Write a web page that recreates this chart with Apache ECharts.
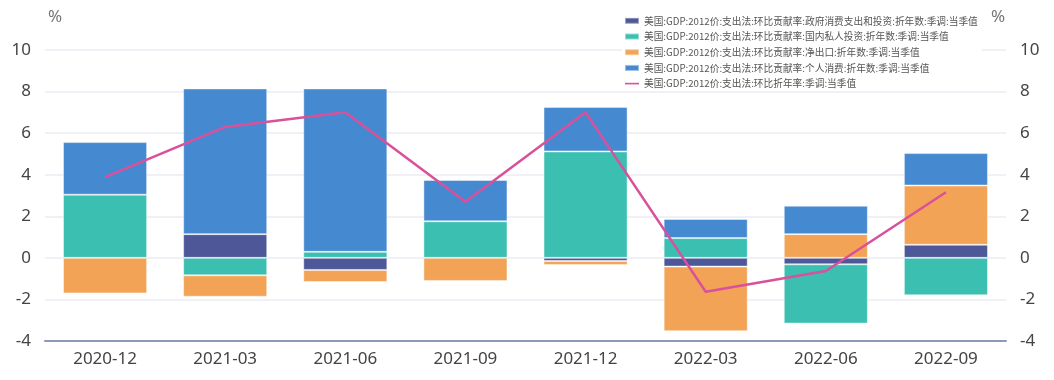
<!DOCTYPE html>
<html>
<head>
<meta charset="utf-8">
<script src="https://cdn.jsdelivr.net/npm/echarts@6/dist/echarts.min.js"></script>
<style>
html,body{margin:0;padding:0;background:#fff;}
#chart{width:1054px;height:380px;}
</style>
</head>
<body>
<div id="chart"></div>
<script>
const categories = ['2020-12','2021-03','2021-06','2021-09','2021-12','2022-03','2022-06','2022-09'];
const seriesNames = [
  '美国:GDP:2012价:支出法:环比贡献率:政府消费支出和投资:折年数:季调:当季值',
  '美国:GDP:2012价:支出法:环比贡献率:国内私人投资:折年数:季调:当季值',
  '美国:GDP:2012价:支出法:环比贡献率:净出口:折年数:季调:当季值',
  '美国:GDP:2012价:支出法:环比贡献率:个人消费:折年数:季调:当季值',
  '美国:GDP:2012价:支出法:环比折年率:季调:当季值'
];
const govValues = [0, 1.14, -0.58, 0, -0.15, -0.42, -0.31, 0.63];
const privInvValues = [3.04, -0.84, 0.29, 1.76, 5.12, 0.95, -2.85, -1.80];
const netExportValues = [-1.71, -1.03, -0.58, -1.11, -0.19, -3.11, 1.14, 2.85];
const consumptionValues = [2.53, 7.01, 7.86, 1.99, 2.14, 0.92, 1.37, 1.56];
const gdpValues = [3.88, 6.3, 7.0, 2.7, 7.0, -1.63, -0.63, 3.16];
const yTicks = {min: -4, max: 10, interval: 2};

const colors = ['#4e5797', '#3bbfb1', '#f2a356', '#4589d0', '#d9509b'];
const chart = echarts.init(document.getElementById('chart'));
const barStyle = (c) => ({color: c, borderColor: 'rgba(255,255,255,0.45)', borderWidth: 1});
const barData = [govValues, privInvValues, netExportValues, consumptionValues];
const series = barData.map((d, i) => ({
  name: seriesNames[i], type: 'bar', stack: 'total', data: d, barWidth: '70%',
  itemStyle: barStyle(colors[i]), yAxisIndex: 0
}));
series.push({
  name: seriesNames[4], type: 'line', data: gdpValues, symbol: 'none',
  lineStyle: {color: colors[4], width: 2.5}, itemStyle: {color: colors[4]}, z: 5
});
const yAxisCommon = {
  type: 'value', min: yTicks.min, max: yTicks.max, interval: yTicks.interval,
  name: '%', nameGap: 24,
  nameTextStyle: {color: '#777', fontSize: 17, fontFamily: 'Noto Sans', padding: [0, 0, 0, 20]},
  axisLine: {show: false}, axisTick: {show: false},
  axisLabel: {color: '#444', fontSize: 17, fontFamily: 'Noto Sans', margin: 14},
  splitLine: {lineStyle: {color: '#f0f0f6', width: 2}}
};
chart.setOption({
  animation: false,
  color: colors,
  grid: {left: 45, right: 48, top: 50, bottom: 39},
  legend: {
    orient: 'vertical', left: 622, top: 14, itemWidth: 14, itemHeight: 6, itemGap: 6,
    backgroundColor: '#fff', padding: [2, 4, 2, 2],
    textStyle: {color: '#555', fontSize: 9.7, fontFamily: 'Noto Sans CJK SC'},
    data: seriesNames.map((n, i) => i < 4 ? {name: n, icon: 'rect'} : {name: n, icon: 'path://M0,0h14v1.6h-14z'})
  },
  xAxis: {
    type: 'category', data: categories,
    axisLine: {onZero: false, lineStyle: {color: '#8e98bd', width: 2}},
    axisTick: {show: false},
    axisLabel: {color: '#444', fontSize: 17, fontFamily: 'Noto Sans', margin: 10}
  },
  yAxis: [
    Object.assign({}, yAxisCommon),
    Object.assign({}, yAxisCommon, {position: 'right', splitLine: {show: false},
      nameTextStyle: {color: '#777', fontSize: 17, fontFamily: 'Noto Sans', padding: [0, 16, 0, 0]}})
  ],
  series: series
});
</script>
</body>
</html>
